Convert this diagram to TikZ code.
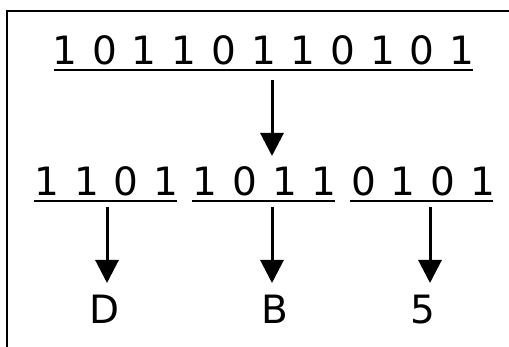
\documentclass[tikz,border=0pt]{standalone}
\usepackage{fontspec}
\setmainfont{DejaVu Sans}
\usetikzlibrary{arrows.meta}
\begin{document}
\begin{tikzpicture}[x=1pt,y=-1pt,
  digit/.style={inner sep=0pt,anchor=base,font=\fontsize{39}{42}\selectfont},
  uline/.style={line width=2pt},
  arr/.style={line width=3pt,-{Triangle[width=23pt,length=23pt]}},
  frame/.style={line width=2.2pt}]
\useasboundingbox[fill=white] (0,0) rectangle (509,347);
\draw[frame] (7,347) -- (7,11) -- (509,11);
% top row
\foreach \d [count=\k from 0] in {1,0,1,1,0,1,1,0,1,0,1}
  \node[digit] (t\k) at ({65+39.7*\k},64.5) {\d};
\draw[uline] (54,70) -- (473,70);
% second row
\foreach \d [count=\k from 0] in {1,1,0,1,1,0,1,1,0,1,0,1}
  \node[digit] (s\k) at ({47+39.6*\k},195.5) {\d};
\draw[uline] (34,201) -- (177,201);
\draw[uline] (192,201) -- (335,201);
\draw[uline] (350,201) -- (493,201);
% results
\node[digit] (rD) at (105,323.5) {D};
\node[digit] (rB) at (275,323.5) {B};
\node[digit] (r5) at (423,323.5) {5};
% arrow endpoints
\coordinate (a0s) at (272,80);  \coordinate (a0e) at (272,156);
\coordinate (a1s) at (107,207); \coordinate (a1e) at (107,283);
\coordinate (a2s) at (272,207); \coordinate (a2e) at (272,283);
\coordinate (a3s) at (430,207); \coordinate (a3e) at (430,283);
\draw[arr] (a0s) -- (a0e);
\draw[arr] (a1s) -- (a1e);
\draw[arr] (a2s) -- (a2e);
\draw[arr] (a3s) -- (a3e);
\end{tikzpicture}
\end{document}
